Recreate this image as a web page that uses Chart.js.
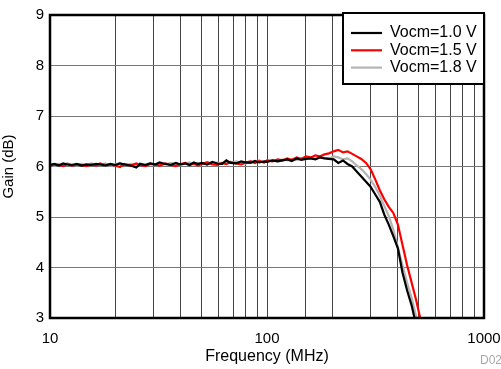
<!DOCTYPE html>
<html><head><meta charset="utf-8">
<script src="https://cdn.jsdelivr.net/npm/chart.js@4.4.1/dist/chart.umd.min.js"></script>
<style>html,body{margin:0;padding:0;background:#fff}#wrap{width:501px;height:369px}</style>
</head><body><div id="wrap"><canvas id="c" width="501" height="369"></canvas></div>
<script>
const freqs = [10,10.5,11,11.5,12,12.6,13.3,14,14.7,15.5,16.3,17,18,19,20,21,22,23.5,25,26,27.5,29,30.5,32,34,36,38,40,42,44,46,48,50,53,56,59,62,65,68,72,76,80,84,88,92,97,100,106,112,118,124,130,137,144,151,159,167,175,184,193,203,213,224,235,247,259,272,286,300,315,331,347,364,382,401,421,442,464,487,511,536];
const gainBlack = [6.03,6.05,6.02,6.06,6.04,6.03,6.05,6.02,6.04,6.03,6.05,6.04,6.02,6.05,6.03,6.06,6.04,6.02,5.98,6.05,6.03,6.06,6.04,6.08,6.05,6.03,6.07,6.04,6.06,6.03,6.08,6.05,6.07,6.04,6.09,6.06,6.05,6.12,6.07,6.06,6.1,6.08,6.07,6.11,6.08,6.1,6.09,6.12,6.1,6.12,6.14,6.11,6.16,6.13,6.15,6.16,6.14,6.18,6.16,6.15,6.14,6.07,6.12,6.05,6.0,5.9,5.8,5.7,5.6,5.45,5.3,5.05,4.85,4.62,4.38,3.9,3.55,3.25,2.85,2.5,2.1];
const gainRed = [6.02,6.04,6.03,6.01,6.05,6.02,6.04,6.03,6.01,6.04,6.02,6.06,6.03,6.04,6.02,5.99,6.05,6.02,6.06,6.03,6.01,6.05,6.04,6.02,6.06,6.03,6.01,6.05,6.07,6.03,6.06,6.02,6.05,6.08,6.04,6.03,6.07,6.05,6.09,6.06,6.04,6.08,6.1,6.07,6.11,6.08,6.12,6.1,6.14,6.12,6.16,6.13,6.18,6.15,6.2,6.18,6.22,6.2,6.24,6.26,6.3,6.33,6.28,6.3,6.25,6.2,6.15,6.07,5.95,5.75,5.53,5.35,5.2,5.08,4.85,4.45,4.05,3.7,3.35,2.95,2.55];
const gainGray = [6.04,6.02,6.05,6.03,6.06,6.04,6.02,6.05,6.03,6.06,6.04,6.03,6.06,6.02,6.04,6.07,6.03,6.05,6.02,6.06,6.04,6.07,6.03,6.05,6.04,6.07,6.05,6.03,6.06,6.08,6.04,6.07,6.05,6.09,6.06,6.08,6.05,6.09,6.07,6.1,6.08,6.06,6.11,6.09,6.12,6.08,6.11,6.13,6.1,6.14,6.12,6.15,6.13,6.16,6.14,6.17,6.15,6.19,6.17,6.16,6.2,6.18,6.14,6.16,6.1,6.02,5.95,5.85,5.74,5.6,5.42,5.22,5.02,4.75,4.4,4.05,3.7,3.4,3.03,2.65,2.25];
const seriesLabels = ['Vocm=1.0 V','Vocm=1.5 V','Vocm=1.8 V'];
const seriesColors = ['#000000','#ff0000','#b4b4b4'];
const xTickLabels = [10,100,1000];
const yTicks = [3,4,5,6,7,8,9];

const FONT = '"Liberation Sans", Arial, sans-serif';
function pts(g){return freqs.map((f,i)=>({x:f,y:g[i]}));}
const allGains=[gainBlack,gainRed,gainGray];

const overlay = {
  id:'overlay',
  afterDraw(chart){
    const ctx=chart.ctx, a=chart.chartArea;
    ctx.save();
    ctx.strokeStyle='#000'; ctx.lineWidth=2.5;
    ctx.strokeRect(a.left,a.top,a.right-a.left,a.bottom-a.top);
    // legend
    const lx=343, ly=13, lw=141, lh=71;
    ctx.fillStyle='#fff'; ctx.fillRect(lx,ly,lw,lh);
    ctx.lineWidth=2; ctx.strokeRect(lx,ly,lw,lh);
    ctx.font='16px '+FONT; ctx.textBaseline='middle'; ctx.textAlign='left';
    seriesLabels.forEach((lab,i)=>{
      const y=ly+20+i*17.3;
      ctx.strokeStyle=seriesColors[i]; ctx.lineWidth=2.2;
      ctx.beginPath(); ctx.moveTo(351,y); ctx.lineTo(382,y); ctx.stroke();
      ctx.fillStyle='#000'; ctx.fillText(lab,390,y);
    });
    ctx.fillStyle='#a8a8a8'; ctx.font='12px '+FONT; ctx.textAlign='left'; ctx.textBaseline='middle';
    ctx.fillText('D02',480,361);
    ctx.restore();
  }
};

new Chart(document.getElementById('c'),{
  type:'line',
  data:{datasets:seriesLabels.map((l,i)=>({label:l,data:pts(allGains[i]),borderColor:seriesColors[i],borderWidth:2.2,pointRadius:0,tension:0,fill:false}))},
  options:{
    responsive:false,animation:false,
    layout:{padding:{top:13,right:0,left:0,bottom:0}},
    plugins:{legend:{display:false},tooltip:{enabled:false}},
    scales:{
      x:{type:'logarithmic',min:10,max:1000,
        grid:{color:'#444',lineWidth:1,drawTicks:false},border:{display:false},
        ticks:{autoSkip:false,maxRotation:0,padding:12,color:'#000',font:{family:FONT,size:15},
          callback:(v)=>xTickLabels.includes(v)?String(v):''},
        afterBuildTicks(s){ s.ticks = s.ticks.filter(t=>t.value>=10&&t.value<=1000); },
        title:{display:true,text:'Frequency (MHz)',color:'#000',font:{family:FONT,size:16},padding:{top:2,bottom:3}},
        afterFit(s){s.height=51; s.paddingRight=17; s.paddingLeft=0;}
      },
      y:{min:3,max:9,
        afterBuildTicks(s){ s.ticks = yTicks.map(v=>({value:v})); },
        grid:{color:'#777',lineWidth:1,drawTicks:false},border:{display:false},
        ticks:{padding:6,color:'#000',font:{family:FONT,size:15}},
        title:{display:true,text:'Gain (dB)',color:'#000',font:{family:FONT,size:15},padding:{top:0,bottom:4}},
        afterFit(s){s.width=50;}
      }
    }
  },
  plugins:[overlay]
});
</script></body></html>
